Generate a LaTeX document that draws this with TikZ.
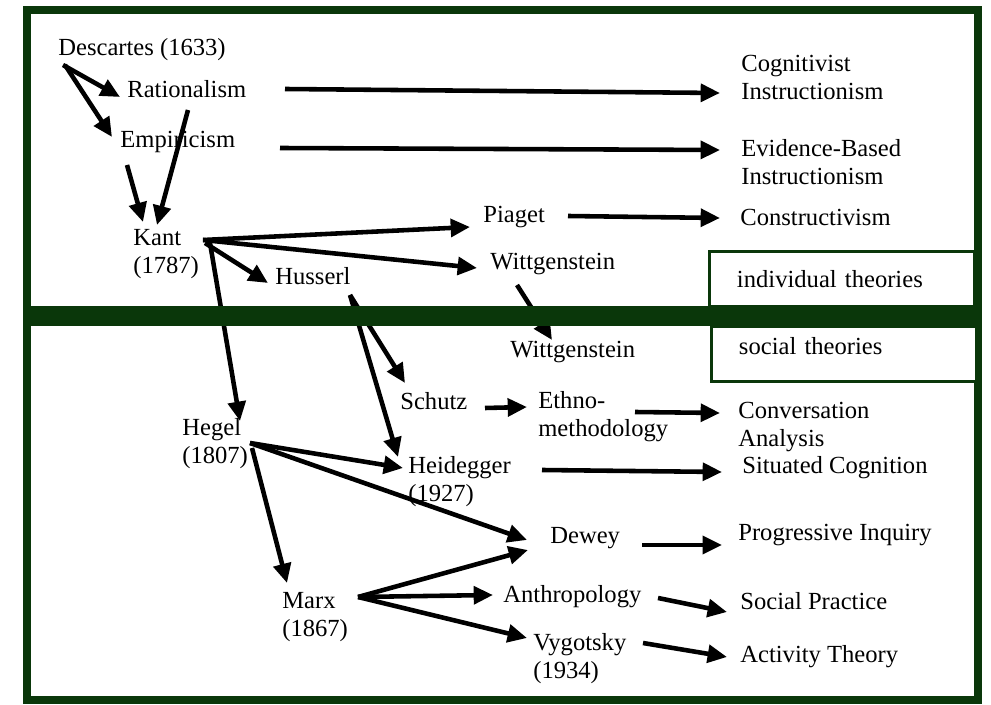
\documentclass[tikz,border=0pt]{standalone}
\usepackage{fontspec}
\setmainfont{Liberation Serif}
\usetikzlibrary{arrows.meta}
\definecolor{framegreen}{RGB}{10,55,10}
\tikzstyle{thinker}=[
    inner sep = 0pt,
    anchor = base west,
    align = left,
    font = \fontsize{14}{16.5}\selectfont
]
\tikzstyle{flow}=[
    -{Triangle[length=11pt,width=10pt]},
    line width = 2.6pt
]
\tikzstyle{theory box}=[
    draw = framegreen,
    line width = 1.7pt,
    anchor = north west,
    minimum width = 5.3cm,
    minimum height = 1.1cm,
    text width = 4.2cm,
    align = left,
    fill = white,
    font = \fontsize{14}{16.5}\selectfont
]

\begin{document}
\begin{tikzpicture}[x=0.02cm, y=-0.02cm]
        \useasboundingbox[fill=white] (0,0) rectangle (991,705);

        % individual side (two-line nodes sit on their last line)
        \node[thinker] (desc) at (58,56) {Descartes (1633)};
        \node[thinker] (rat) at (127,98) {Rationalism};
        \node[thinker] (emp) at (120,148) {Empiricism};
        \node[thinker] (kant) at (133,274) {Kant\\(1787)};
        \node[thinker] (huss) at (275,285) {Husserl};
        \node[thinker] (piaget) at (483,223) {Piaget};
        \node[thinker] (witta) at (490,270) {Wittgenstein};
        \node[thinker] (cog) at (741,100) {Cognitivist\\Instructionism};
        \node[thinker] (evid) at (741,185) {Evidence-Based\\Instructionism};
        \node[thinker] (cons) at (740,226) {Constructivism};

        % social side
        \node[thinker] (wittb) at (510,358) {Wittgenstein};
        \node[thinker] (schutz) at (400,410) {Schutz};
        \node[thinker] (ethno) at (538,437) {Ethno-\\methodology};
        \node[thinker] (conv) at (738,447) {Conversation\\Analysis};
        \node[thinker] (hegel) at (182,464) {Hegel\\(1807)};
        \node[thinker] (heid) at (408,502) {Heidegger\\(1927)};
        \node[thinker] (sit) at (742,474) {Situated Cognition};
        \node[thinker] (dewey) at (550,544) {Dewey};
        \node[thinker] (prog) at (738,541) {Progressive Inquiry};
        \node[thinker] (marx) at (282,637) {Marx\\(1867)};
        \node[thinker] (anth) at (503,603) {Anthropology};
        \node[thinker] (soc) at (740,610) {Social Practice};
        \node[thinker] (vyg) at (533,679) {Vygotsky\\(1934)};
        \node[thinker] (act) at (740,663) {Activity Theory};

        \draw[flow] ([shift={(5,9)}]desc.base west) -- ([shift={(-7,-1)}]rat.base west);
        \draw[flow] ([shift={(7,9)}]desc.base west) -- ([shift={(-8,-11)}]emp.base west);
        \draw[flow] ([shift={(7,17)}]emp.base west) -- ([shift={(10,-52)}]kant.base west);
        \draw[flow] ([shift={(61,12)}]rat.base west) -- ([shift={(24,-49)}]kant.base west);
        \draw[flow] ([shift={(158,-9)}]rat.base west) -- ([shift={(-21,-7)}]cog.base west);
        \draw[flow] ([shift={(160,0)}]emp.base west) -- ([shift={(-21,-35)}]evid.base west);

        \draw[flow] ([shift={(70,-34)}]kant.base west) -- ([shift={(-13,4)}]piaget.base west);
        \draw[flow] ([shift={(70,-34)}]kant.base west) -- ([shift={(-13,-2)}]witta.base west);
        \draw[flow] ([shift={(72,-31)}]kant.base west) -- ([shift={(-7,-2)}]huss.base west);
        \draw[flow] ([shift={(77,-31)}]kant.base west) -- ([shift={(58,-43)}]hegel.base west);
        \draw[flow] ([shift={(85,-7)}]piaget.base west) -- ([shift={(-20,-8)}]cons.base west);
        \draw[flow] ([shift={(27,15)}]witta.base west) -- ([shift={(42,-18)}]wittb.base west);

        \draw[flow] ([shift={(75,10)}]huss.base west) -- ([shift={(5,-27)}]schutz.base west);
        \draw[flow] ([shift={(75,10)}]huss.base west) -- ([shift={(-10,-45)}]heid.base west);
        \draw[flow] ([shift={(85,-2)}]schutz.base west) -- ([shift={(-11,-30)}]ethno.base west);
        \draw[flow] ([shift={(97,-25)}]ethno.base west) -- ([shift={(-18,-34)}]conv.base west);
        \draw[flow] ([shift={(134,-32)}]heid.base west) -- ([shift={(-20,-2)}]sit.base west);

        \draw[flow] ([shift={(68,-21)}]hegel.base west) -- ([shift={(-5,-34)}]heid.base west);
        \draw[flow] ([shift={(68,-21)}]hegel.base west) -- ([shift={(-23,-4)}]dewey.base west);
        \draw[flow] ([shift={(70,-16)}]hegel.base west) -- ([shift={(5,-54)}]marx.base west);
        \draw[flow] ([shift={(76,-40)}]marx.base west) -- ([shift={(-22,6)}]dewey.base west);
        \draw[flow] ([shift={(76,-40)}]marx.base west) -- ([shift={(-10,-8)}]anth.base west);
        \draw[flow] ([shift={(76,-40)}]marx.base west) -- ([shift={(-6,-41)}]vyg.base west);
        \draw[flow] ([shift={(92,1)}]dewey.base west) -- ([shift={(-16,4)}]prog.base west);
        \draw[flow] ([shift={(155,-5)}]anth.base west) -- ([shift={(-13,2)}]soc.base west);
        \draw[flow] ([shift={(110,-36)}]vyg.base west) -- ([shift={(-13,-6)}]act.base west);

        % frame and divider
        \draw[framegreen, line width=5.1pt] (27,10) rectangle (978,700);
        \fill[framegreen] (27,306) rectangle (978,326);
        \node[theory box] (indiv) at (708,250) {individual theories};
        \node[theory box, text depth=9pt] (social) at (710,325) {social theories};

    \end{tikzpicture}
\end{document}
